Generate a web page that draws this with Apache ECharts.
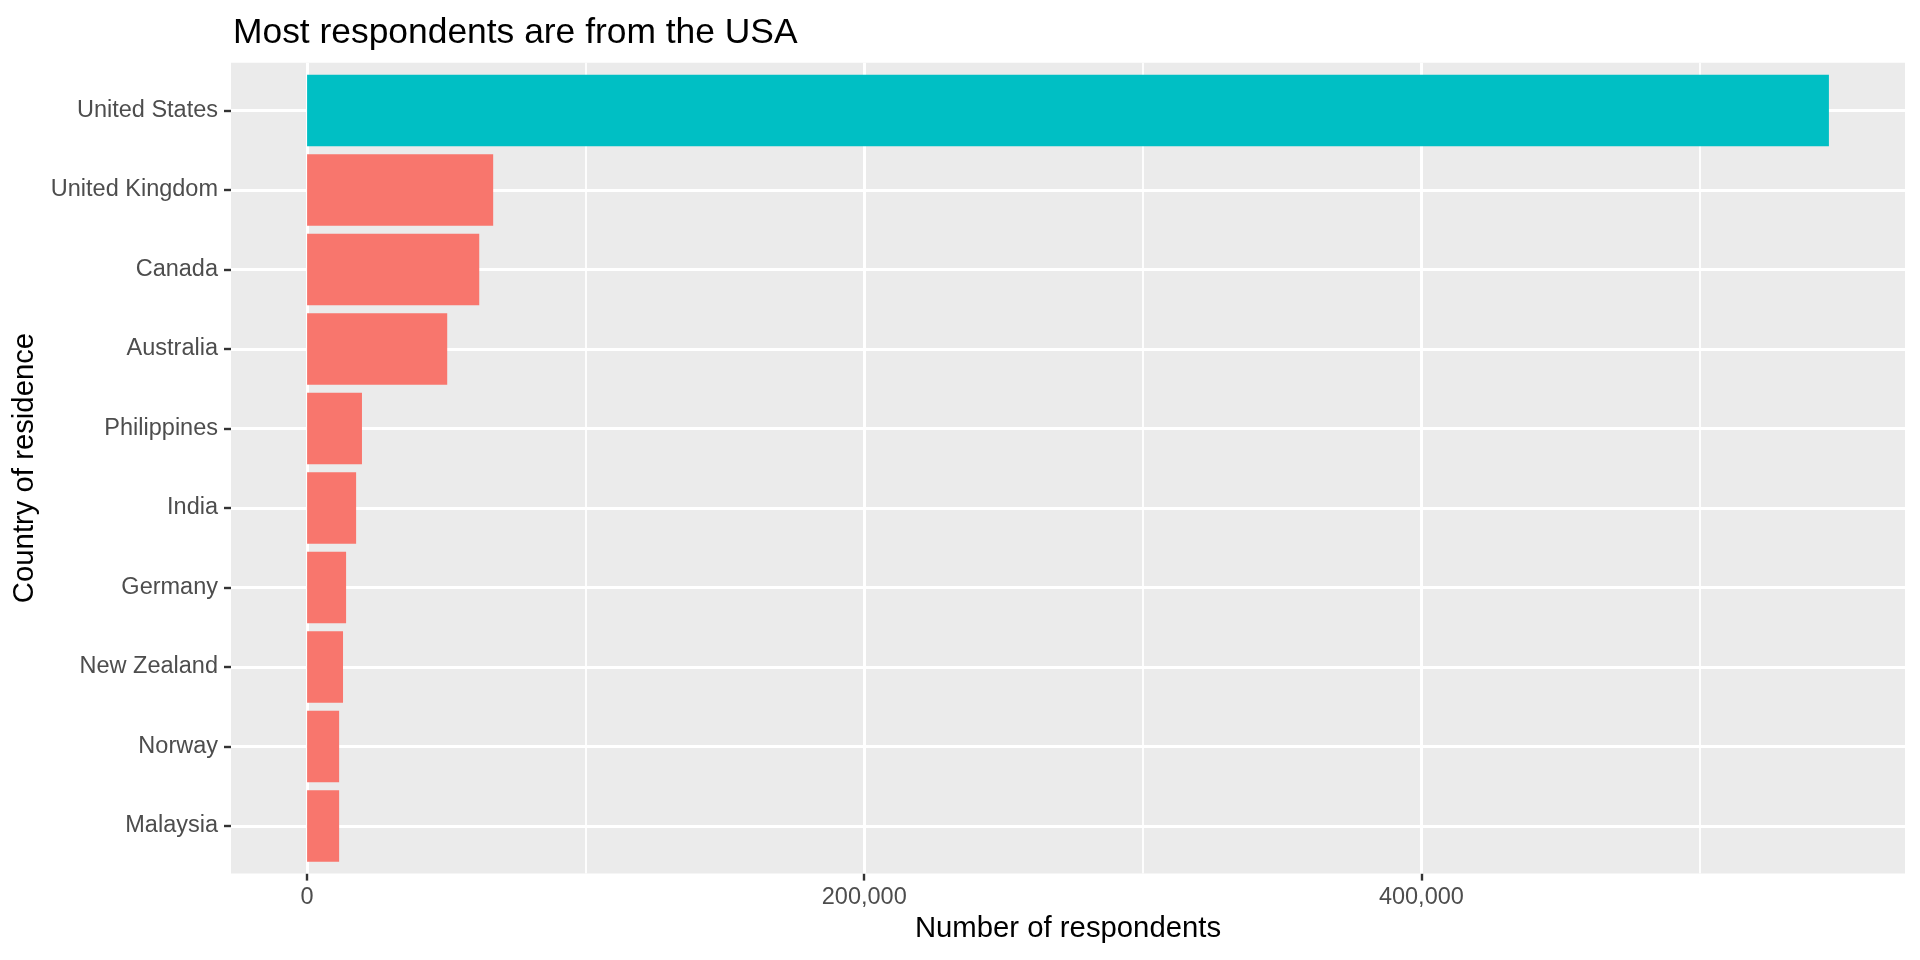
<!DOCTYPE html>
<html>
<head>
<meta charset="utf-8">
<script src="https://cdn.jsdelivr.net/npm/echarts@6/dist/echarts.min.js"></script>
<style>
  html, body { margin: 0; padding: 0; background: #ffffff; }
  #chart { width: 1920px; height: 960px; }
</style>
</head>
<body>
<div id="chart"></div>
<script>
// ---- data ----
const countries = ['United States', 'United Kingdom', 'Canada', 'Australia', 'Philippines',
                   'India', 'Germany', 'New Zealand', 'Norway', 'Malaysia'];
const respondents = [546300, 66800, 61800, 50300, 19700, 17600, 14000, 12900, 11500, 11500];
const highlighted = [true, false, false, false, false, false, false, false, false, false];
const xMajorBreaks = [0, 200000, 400000];
const xMinorBreaks = [100000, 300000, 500000];
const titleText = 'Most respondents are from the USA';
const xTitle = 'Number of respondents';
const yTitle = 'Country of residence';

// ---- styling ----
const FONT = 'Liberation Sans, Arial, Helvetica, sans-serif';
const HIGHLIGHT = '#00BFC4';
const OTHER = '#F8766D';

const maxVal = Math.max.apply(null, respondents);
const expand = maxVal * 0.05;
const catPositions = countries.map((c, i) => i + 1);

const barData = countries.map((c, i) => ({
  value: [respondents[i], i + 1],
  itemStyle: { color: highlighted[i] ? HIGHLIGHT : OTHER }
}));

const gridLines = []
  .concat(xMajorBreaks.map(v => ({ xAxis: v, lineStyle: { width: 3 } })))
  .concat(xMinorBreaks.map(v => ({ xAxis: v, lineStyle: { width: 1.8 } })))
  .concat(catPositions.map(v => ({ yAxis: v, lineStyle: { width: 3 } })));

const fmt = v => Math.round(v).toString().replace(/\B(?=(\d{3})+(?!\d))/g, ',');

const chart = echarts.init(document.getElementById('chart'), null, { renderer: 'canvas' });
chart.setOption({
  animation: false,
  backgroundColor: '#ffffff',
  textStyle: { fontFamily: FONT },
  title: {
    text: titleText,
    left: 228,
    top: 10.5,
    textStyle: { fontFamily: FONT, fontSize: 35.4, fontWeight: 'normal', color: '#000000' }
  },
  graphic: [
    {
      type: 'text',
      x: 25,
      y: 468,
      rotation: Math.PI / 2,
      silent: true,
      style: {
        text: yTitle,
        fontFamily: FONT,
        fontSize: 29.3,
        fill: '#000000',
        align: 'center',
        verticalAlign: 'middle'
      }
    }
  ],
  grid: {
    left: 231, right: 15, top: 62.7, bottom: 86.4,
    show: true, backgroundColor: '#EBEBEB', borderWidth: 0,
    containLabel: false
  },
  xAxis: {
    type: 'value',
    min: -expand,
    max: maxVal + expand,
    axisLine: { show: true, onZero: false, lineStyle: { color: 'rgba(0,0,0,0)', width: 0 } },
    splitLine: { show: false },
    axisTick: { show: true, customValues: xMajorBreaks, length: 7, lineStyle: { color: '#333333', width: 2.4 } },
    axisLabel: {
      customValues: xMajorBreaks,
      formatter: fmt,
      fontFamily: FONT, fontSize: 23.5, color: '#4D4D4D', margin: 12
    },
    name: xTitle,
    nameLocation: 'middle',
    nameGap: 41,
    nameTextStyle: { fontFamily: FONT, fontSize: 29.3, color: '#000000' }
  },
  yAxis: {
    type: 'value',
    inverse: true,
    min: 0.4,
    max: 10.6,
    axisLine: { show: true, onZero: false, lineStyle: { color: 'rgba(0,0,0,0)', width: 0 } },
    splitLine: { show: false },
    axisTick: { show: true, customValues: catPositions, length: 7, lineStyle: { color: '#333333', width: 2.4 } },
    axisLabel: {
      customValues: catPositions,
      formatter: v => countries[Math.round(v) - 1] || '',
      fontFamily: FONT, fontSize: 23.5, color: '#4D4D4D', margin: 13
    }
  },
  series: [
    {
      type: 'line',
      data: [],
      silent: true,
      markLine: {
        silent: true,
        symbol: 'none',
        animation: false,
        label: { show: false },
        lineStyle: { color: '#FFFFFF', type: 'solid' },
        emphasis: { disabled: true },
        data: gridLines
      }
    },
    {
      type: 'custom',
      z: 10,
      silent: true,
      encode: { x: 0, y: 1 },
      data: barData,
      renderItem: function (params, api) {
        const v = api.value(0);
        const c = api.value(1);
        const p0 = api.coord([0, c]);
        const p1 = api.coord([v, c]);
        const h = api.size([0, 0.9])[1];
        return {
          type: 'rect',
          shape: { x: p0[0], y: p0[1] - h / 2, width: p1[0] - p0[0], height: h },
          style: { fill: api.visual('color') }
        };
      }
    }
  ]
});
</script>
</body>
</html>
